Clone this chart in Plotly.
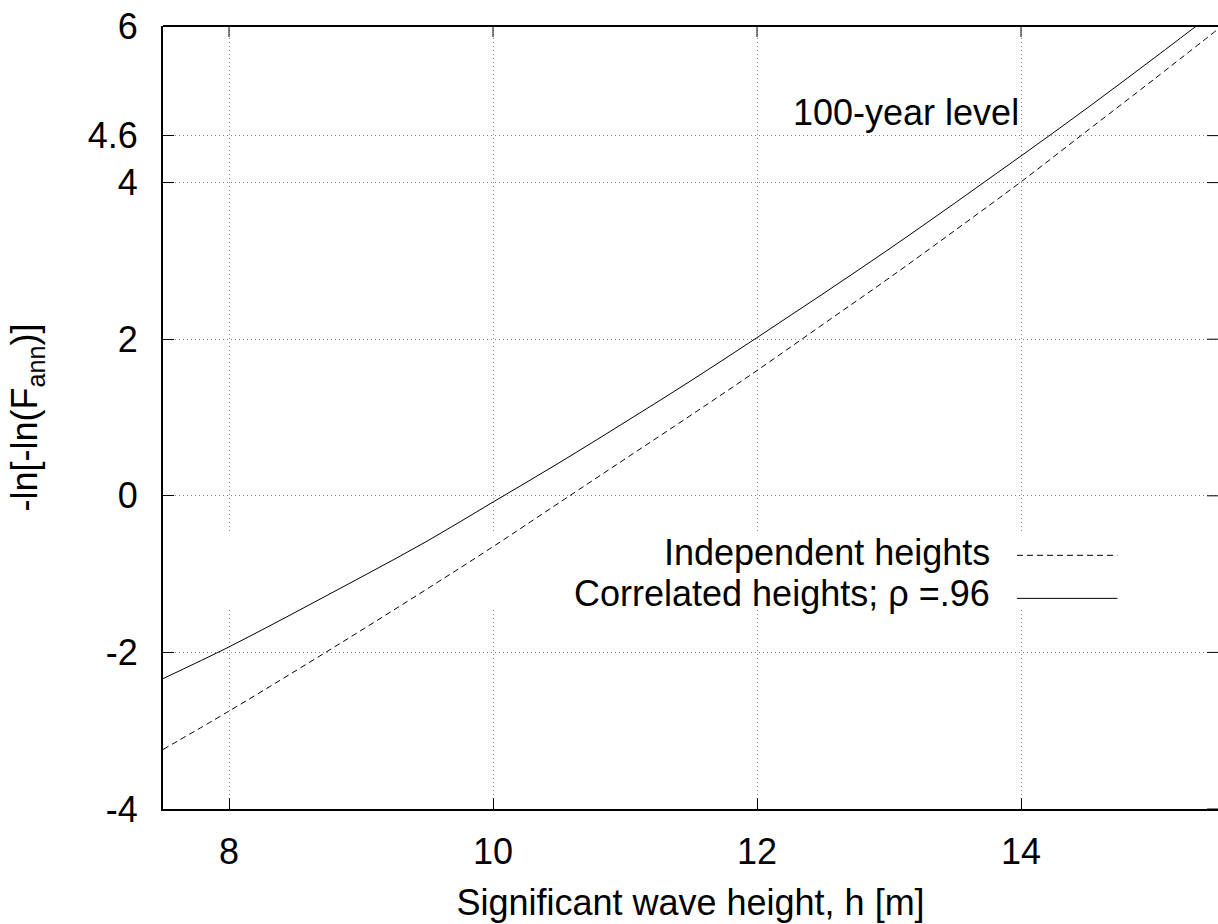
import plotly.graph_objects as go

# Data
h_vals = [7.5, 8.0, 8.5, 9.0, 9.5, 10.0, 10.5, 11.0, 11.5, 12.0, 12.5, 13.0, 13.5, 14.0, 14.5, 15.0, 15.5]
independent = [-3.24, -2.75, -2.24, -1.72, -1.19, -0.65, -0.09, 0.47, 1.03, 1.60, 2.19, 2.78, 3.39, 4.01, 4.66, 5.31, 5.97]
correlated = [-2.335, -1.93, -1.49, -1.04, -0.58, -0.08, 0.42, 0.94, 1.47, 2.02, 2.58, 3.15, 3.74, 4.34, 4.95, 5.58, 6.22]

x_ticks = [8, 10, 12, 14]
y_ticks = [-4, -2, 0, 2, 4, 4.6, 6]
y_tick_text = ["-4", "-2", "0", "2", "4", "4.6", "6"]

FONT = "Liberation Sans, Arial, Helvetica, sans-serif"
FS = 36
PLOT_W = 1055
PLOT_H = 783

fig = go.Figure()
fig.add_trace(go.Scatter(x=h_vals, y=independent, mode="lines", line_shape="spline",
                         line=dict(color="black", width=1, dash="6px,4px"),
                         name="Independent heights", showlegend=False))
fig.add_trace(go.Scatter(x=h_vals, y=correlated, mode="lines", line_shape="spline",
                         line=dict(color="black", width=1),
                         name="Correlated heights; ρ =.96", showlegend=False))

shapes = []
# blank key area over grid (between grid and traces)
shapes.append(dict(type="rect", xref="x", yref="y", x0=7.75, x1=15.2, y0=-1.42, y1=-0.48,
                   fillcolor="white", line=dict(width=0), layer="between"))
# top border
shapes.append(dict(type="line", xref="paper", yref="paper", x0=0, x1=1, y0=1, y1=1,
                   line=dict(color="black", width=2)))
# top inward tick marks
for xv in x_ticks:
    shapes.append(dict(type="line", xref="x", yref="paper", x0=xv, x1=xv, y0=1 - 11 / PLOT_H, y1=1,
                       line=dict(color="black", width=1)))
# right-side inward tick marks
for yv in y_ticks:
    shapes.append(dict(type="line", xref="paper", yref="y", x0=1 - 11 / PLOT_W, x1=1, y0=yv, y1=yv,
                       line=dict(color="black", width=1)))
# legend samples
shapes.append(dict(type="line", xref="x", yref="y", x0=13.97, x1=14.73, y0=-0.76, y1=-0.76,
                   line=dict(color="black", width=1, dash="6px,4px")))
shapes.append(dict(type="line", xref="x", yref="y", x0=13.97, x1=14.73, y0=-1.31, y1=-1.31,
                   line=dict(color="black", width=1)))

annotations = [
    dict(x=14.0, y=4.9, xref="x", yref="y", text="100-year level", showarrow=False,
         xanchor="right", yanchor="middle", font=dict(family=FONT, size=FS, color="black")),
    dict(x=13.78, y=-0.72, xref="x", yref="y", text="Independent heights", showarrow=False,
         xanchor="right", yanchor="middle", font=dict(family=FONT, size=FS, color="black")),
    dict(x=13.78, y=-1.25, xref="x", yref="y", text="Correlated heights; ρ =.96", showarrow=False,
         xanchor="right", yanchor="middle", font=dict(family=FONT, size=FS, color="black")),
]

grid_style = dict(showgrid=True, gridcolor="#888888", gridwidth=1, griddash="1px,3px")

fig.update_layout(
    width=1218, height=924,
    margin=dict(l=163, r=0, t=26, b=115),
    paper_bgcolor="white", plot_bgcolor="white",
    font=dict(family=FONT, size=FS, color="black"),
    shapes=shapes, annotations=annotations,
    xaxis=dict(range=[7.5, 7.5 + PLOT_W / 132], tickvals=x_ticks, ticktext=[str(v) for v in x_ticks],
               ticks="inside", ticklen=11, tickwidth=1, tickcolor="black",
               showline=True, linecolor="black", linewidth=2, mirror=False,
               zeroline=False, ticklabelstandoff=10, automargin=False,
               ticklabeloverflow="allow",
               title=dict(text="Significant wave height, h [m]", standoff=19,
                          font=dict(family=FONT, size=FS)),
               **grid_style),
    yaxis=dict(range=[-4, 6], tickvals=y_ticks, ticktext=y_tick_text,
               ticks="inside", ticklen=11, tickwidth=1, tickcolor="black",
               showline=True, linecolor="black", linewidth=2, mirror=False,
               zeroline=False, ticklabelstandoff=16, automargin=False,
               ticklabeloverflow="allow",
               title=dict(text="-ln[-ln(F<sub>ann</sub>)]", standoff=39,
                          font=dict(family=FONT, size=FS)),
               **grid_style),
)

# remove the default page margin so the figure sits at the window's top-left corner
fig.write_html("out.html",
               config={"displayModeBar": False, "staticPlot": True},
               post_script="document.body.style.margin='0';document.body.style.overflow='hidden';")
